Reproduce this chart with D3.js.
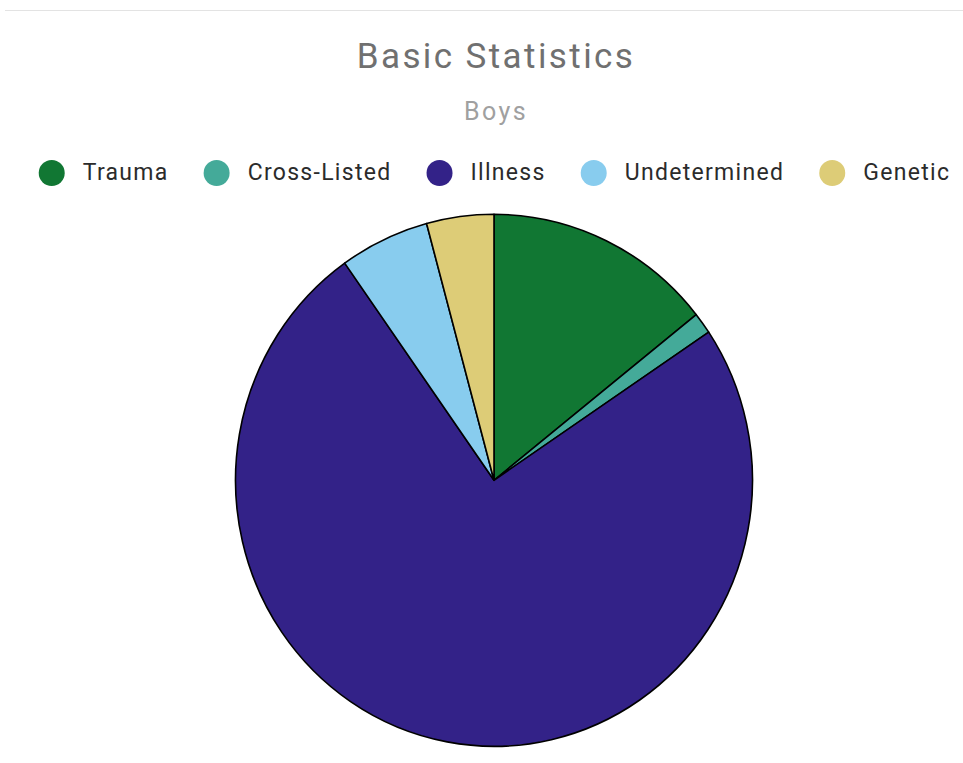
<!DOCTYPE html>
<html>
<head>
<meta charset="utf-8">
<script src="https://cdn.jsdelivr.net/npm/d3@7"></script>
<style>
  html, body { margin: 0; padding: 0; background: #fff; }
  svg { display: block; }
  text { font-family: Roboto, "Noto Sans", sans-serif; }
</style>
</head>
<body>
<svg id="chart" width="963" height="763"></svg>
<script>
// Share of cases by cause (percent)
const categories = ["Trauma", "Cross-Listed", "Illness", "Undetermined", "Genetic"];
const values = [14.3, 1.3, 74.6, 5.6, 4.2];
const colors = ["#117733", "#44aa99", "#332288", "#88ccee", "#ddcc77"];
const title = "Basic Statistics";
const subtitle = "Boys";

const width = 963, height = 763;
const svg = d3.select("#chart");

// thin separator across the top
svg.append("line")
  .attr("x1", 5).attr("x2", width)
  .attr("y1", 10.5).attr("y2", 10.5)
  .attr("stroke", "#e3e3e3").attr("stroke-width", 1);

svg.append("text")
  .attr("x", 496).attr("y", 68)
  .attr("text-anchor", "middle")
  .attr("font-size", 35)
  .attr("letter-spacing", 2.4)
  .attr("fill", "#707070")
  .text(title);

svg.append("text")
  .attr("x", 496).attr("y", 120)
  .attr("text-anchor", "middle")
  .attr("font-size", 25)
  .attr("letter-spacing", 2.4)
  .attr("fill", "#a0a0a0")
  .text(subtitle);

// legend: dot + label, laid out left to right and centred
const color = d3.scaleOrdinal().domain(categories).range(colors);
const legend = svg.append("g");
const items = legend.selectAll("g").data(categories).join("g");
items.append("circle")
  .attr("r", 13)
  .attr("cy", 173)
  .attr("fill", d => color(d));
items.append("text")
  .attr("y", 180)
  .attr("font-size", 23)
  .attr("letter-spacing", 1.3)
  .attr("fill", "#2b2b2b")
  .text(d => d);

let x = 0;
const positions = [];
items.each(function() {
  const w = d3.select(this).select("text").node().getComputedTextLength();
  positions.push(x);
  x += 13 + 18 + w + 48;
});
const legendLeft = 488 - (x - 48) / 2;
items.each(function(d, i) {
  const g = d3.select(this);
  const dotX = legendLeft + positions[i] + 13;
  g.select("circle").attr("cx", dotX);
  g.select("text").attr("x", dotX + 31);
});

// pie
const cx = 494, cy = 480.3, r = 258.5, stretch = 1.029;
const pie = d3.pie().value(d => d.value).sort(null);
const arc = d3.arc().innerRadius(0).outerRadius(r);
const data = categories.map((c, i) => ({ name: c, value: values[i] }));

svg.append("g")
  .attr("transform", `translate(${cx},${cy}) scale(1,${stretch})`)
  .selectAll("path")
  .data(pie(data))
  .join("path")
  .attr("d", arc)
  .attr("fill", d => color(d.data.name))
  .attr("stroke", "#000")
  .attr("stroke-width", 1.6)
  .attr("stroke-linejoin", "round")
  .attr("vector-effect", "non-scaling-stroke");
</script>
</body>
</html>
